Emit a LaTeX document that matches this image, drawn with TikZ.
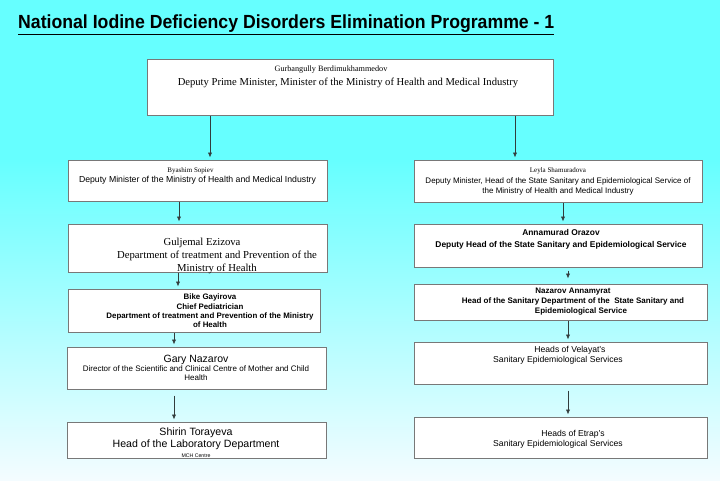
\documentclass[tikz,border=0pt]{standalone}
\usepackage{fontspec}
\setmainfont{Liberation Serif}
\setsansfont{Liberation Sans}
\usepackage{graphicx}
\usetikzlibrary{arrows.meta,positioning}

\definecolor{skytop}{RGB}{102,255,255}
\definecolor{skylow}{RGB}{244,252,255}
\definecolor{frame}{RGB}{120,120,120}
\definecolor{linkgray}{RGB}{50,60,60}

\newcommand\setfs[2]{\fontsize{#1}{#2}\selectfont}

\tikzset{
    box/.style={rectangle,draw=frame,fill=white,line width=1pt,inner sep=0},
    serif/.style={font=\rmfamily,align=center,inner sep=0},
    sans/.style={font=\sffamily,align=center,inner sep=0},
    bsans/.style={font=\sffamily\bfseries,align=center,inner sep=0},
    link/.style={draw=linkgray,line width=0.7pt,-{Latex[length=5pt,width=4.2pt]},shorten >=2pt}
    }

\begin{document}
\begin{tikzpicture}[x=1pt,y=-1pt]
                % Background
                \fill[skytop] (0,0) rectangle (720,160);
                \shade[top color=skytop,bottom color=skylow] (0,160) rectangle (720,480);
                \node[font=\sffamily\bfseries\setfs{19}{21},anchor=west,inner sep=0] (title) at (18,25)
                    {\scalebox{0.93}[1]{\underline{National Iodine Deficiency Disorders Elimination Programme - 1}}};
                % The Boxes
                \node(pm)[box, minimum width=406, minimum height=56] at (350,87) {};
                \node(sopiev)[box, minimum width=259, minimum height=41] at (197.5,180.5) {};
                \node(ezizova)[box, minimum width=259, minimum height=48] at (197.5,248) {};
                \node(gayirova)[box, minimum width=252, minimum height=43] at (194,310.5) {};
                \node(nazarov)[box, minimum width=259, minimum height=42] at (196.5,368) {};
                \node(torayeva)[box, minimum width=259, minimum height=36] at (196.5,440) {};
                \node(shamuradova)[box, minimum width=288, minimum height=42] at (558,181) {};
                \node(orazov)[box, minimum width=288, minimum height=43] at (558,245.5) {};
                \node(annamyrat)[box, minimum width=293, minimum height=36] at (560.5,302) {};
                \node(velayat)[box, minimum width=293, minimum height=42] at (560.5,363) {};
                \node(etrap)[box, minimum width=293, minimum height=41] at (560.5,437.5) {};
                % The Texts
                \node(pmtxt)[serif, font=\rmfamily\setfs{10.6}{14}] at (348,77)
                    {{\setfs{8.2}{14}Gurbangully Berdimukhammedov\hspace*{34pt}}\\Deputy Prime Minister, Minister of the Ministry of Health and Medical Industry};
                \node(sopievtxt)[sans, font=\sffamily\setfs{8.7}{10.5}] at (197.5,176)
                    {{\rmfamily\setfs{7}{10.5}Byashim Sopiev\hspace*{14pt}}\\Deputy Minister of the Ministry of Health and Medical Industry};
                \node(ezizovatxt)[serif, font=\rmfamily\setfs{10.7}{13}] at (217,255.5)
                    {Guljemal Ezizova\hspace*{30pt}\\Department of treatment and Prevention of the\\Ministry of Health};
                \node(gayirovatxt)[bsans, font=\sffamily\bfseries\setfs{7.9}{9.4}] at (210,311)
                    {Bike Gayirova\\Chief Pediatrician\\Department of treatment and Prevention of the Ministry\\of Health};
                \node(nazarovtxt)[sans, font=\sffamily\setfs{8}{9}] at (196,367.5)
                    {{\setfs{10.5}{12}Gary Nazarov}\\Director of the Scientific and Clinical Centre of Mother and Child\\Health};
                \node(torayevatxt)[sans, font=\sffamily\setfs{10.6}{12.5}] at (196,442.5)
                    {Shirin Torayeva\\Head of the Laboratory Department\\[-3pt]{\setfs{5.2}{7}MCH Centre}};
                \node(shamuradovatxt)[sans, font=\sffamily\setfs{8}{10}] at (558,181.5)
                    {{\rmfamily\setfs{7}{11.5}Leyla Shamuradova}\\[0.5pt]Deputy Minister, Head of the State Sanitary and Epidemiological Service of\\the Ministry of Health and Medical Industry};
                \node(orazovtxt)[bsans, font=\sffamily\bfseries\setfs{8.4}{12}] at (561,239)
                    {Annamurad Orazov\\Deputy Head of the State Sanitary and Epidemiological Service};
                \node(annamyrattxt)[bsans, font=\sffamily\bfseries\setfs{8}{9.8}] at (573,301.5)
                    {Nazarov Annamyrat\\Head of the Sanitary Department of the \ State Sanitary and\\\hspace*{16pt}Epidemiological Service};
                \node(velayattxt)[sans, font=\sffamily\setfs{8.6}{9.5}] at (558,355.5)
                    {\hspace*{24pt}Heads of Velayat's\\Sanitary Epidemiological Services};
                \node(etraptxt)[sans, font=\sffamily\setfs{8.6}{10}] at (558,439)
                    {\hspace*{30pt}Heads of Etrap's\\Sanitary Epidemiological Services};
                % The Links
                \draw[link] ([xshift=-140pt]pm.south) -- ([xshift=12.5pt]sopiev.north);
                \draw[link] ([xshift=165pt]pm.south) -- ([xshift=-43pt]shamuradova.north);
                \draw[link] ([xshift=-18.5pt]sopiev.south) -- ([xshift=-18.5pt]ezizova.north);
                \draw[link] ([xshift=-19.5pt]ezizova.south) -- ([xshift=-16pt]gayirova.north);
                \draw[link] ([xshift=-20pt]gayirova.south) -- ([xshift=-22.5pt]nazarov.north);
                \draw[link, shorten <=6pt] ([xshift=-22.5pt]nazarov.south) -- ([xshift=-22.5pt]torayeva.north);
                \draw[link] ([xshift=5pt]shamuradova.south) -- ([xshift=5pt]orazov.north);
                \draw[link, shorten <=3pt, shorten >=5pt] ([xshift=10pt]orazov.south) -- ([xshift=7.5pt]annamyrat.north);
                \draw[link] ([xshift=7.5pt]annamyrat.south) -- ([xshift=7.5pt]velayat.north);
                \draw[link, shorten <=6pt] ([xshift=7.5pt]velayat.south) -- ([xshift=7.5pt]etrap.north);
            \end{tikzpicture}
\end{document}
